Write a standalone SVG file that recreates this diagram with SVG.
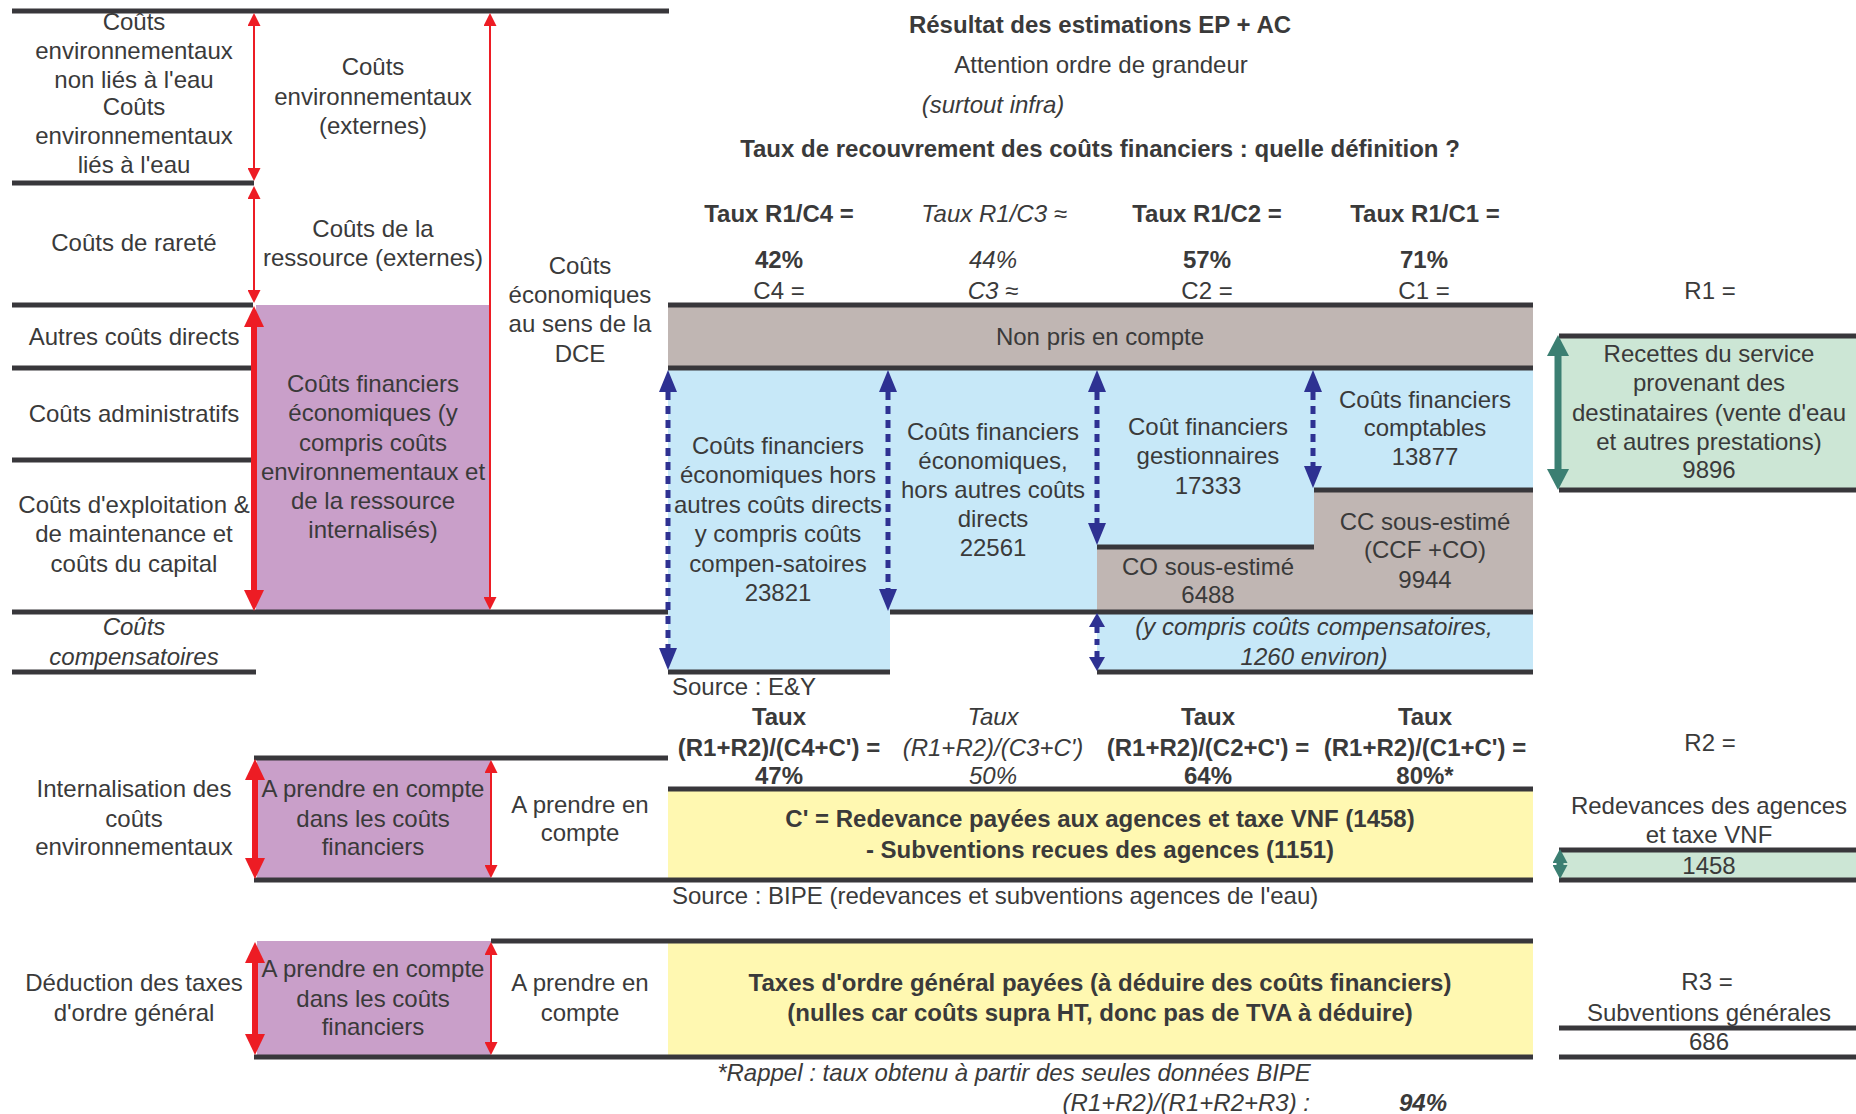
<svg xmlns="http://www.w3.org/2000/svg" width="1856" height="1114" viewBox="0 0 1856 1114">
<style>
.t{font-family:'Liberation Sans',Arial,sans-serif;font-size:24px;fill:#3a3a3a;text-anchor:middle}
.b{font-weight:bold}
.i{font-style:italic}
.l{text-anchor:start}
.e{text-anchor:end}
.rule{stroke:#38373b;stroke-width:5;fill:none}
.red{stroke:#ed1c24;stroke-width:2;fill:none}
.redT{stroke:#ed1c24;stroke-width:6;fill:none}
.nav{stroke:#2e3192;stroke-width:5;stroke-dasharray:8 6;fill:none}
.navS{stroke:#2e3192;stroke-width:5;stroke-dasharray:6 6;fill:none}
.teal{stroke:#3b7f72;stroke-width:7;fill:none}
.pur{fill:#c99fc9}
.blu{fill:#c7e8f8}
.gry{fill:#c0b6b3}
.yel{fill:#fff8b1}
.grn{fill:#cce6d5}
</style>
<defs>
<marker id="mRed" markerUnits="userSpaceOnUse" viewBox="0 -6.5 13 13" refX="0" refY="0" markerWidth="13" markerHeight="13" orient="auto-start-reverse"><path d="M0,-6.5 L13,0 L0,6.5 z" fill="#ed1c24"/></marker>
<marker id="mRedT" markerUnits="userSpaceOnUse" viewBox="0 -10 21 20" refX="0" refY="0" markerWidth="21" markerHeight="20" orient="auto-start-reverse"><path d="M0,-10 L21,0 L0,10 z" fill="#ed1c24"/></marker>
<marker id="mNav" markerUnits="userSpaceOnUse" viewBox="0 -9 22 18" refX="0" refY="0" markerWidth="22" markerHeight="18" orient="auto-start-reverse"><path d="M0,-9 L22,0 L0,9 z" fill="#2e3192"/></marker>
<marker id="mNavS" markerUnits="userSpaceOnUse" viewBox="0 -8 14 16" refX="0" refY="0" markerWidth="14" markerHeight="16" orient="auto-start-reverse"><path d="M0,-8 L14,0 L0,8 z" fill="#2e3192"/></marker>
<marker id="mTeal" markerUnits="userSpaceOnUse" viewBox="0 -11 21 22" refX="0" refY="0" markerWidth="21" markerHeight="22" orient="auto-start-reverse"><path d="M0,-11 L21,0 L0,11 z" fill="#3b7f72"/></marker>
<marker id="mTealS" markerUnits="userSpaceOnUse" viewBox="0 -7.5 14 15" refX="0" refY="0" markerWidth="14" markerHeight="15" orient="auto-start-reverse"><path d="M0,-7.5 L14,0 L0,7.5 z" fill="#3b7f72"/></marker>
</defs>
<rect width="1856" height="1114" fill="#ffffff"/>

<!-- fills -->
<g id="fills">
<rect class="pur" x="256" y="305" width="234" height="307"/>
<rect class="gry" x="668" y="305" width="865" height="63"/>
<rect class="blu" x="668" y="368" width="222" height="304"/>
<rect class="blu" x="890" y="368" width="207" height="244"/>
<rect class="blu" x="1097" y="368" width="217" height="179"/>
<rect class="gry" x="1097" y="547" width="217" height="65"/>
<rect class="blu" x="1314" y="368" width="219" height="122"/>
<rect class="gry" x="1314" y="490" width="219" height="122"/>
<rect class="blu" x="1097" y="612" width="436" height="60"/>
<rect class="grn" x="1559" y="336" width="297" height="154"/>
<rect class="pur" x="257" y="758" width="234" height="122"/>
<rect class="yel" x="668" y="789" width="865" height="91"/>
<rect class="grn" x="1559" y="850" width="297" height="30"/>
<rect class="pur" x="257" y="941" width="234" height="115"/>
<rect class="yel" x="668" y="941" width="865" height="116"/>
</g>

<!-- horizontal rules -->
<g id="rules">
<path class="rule" d="M12,11 H669 M12,183 H254 M12,305 H253 M668,305 H1533 M12,368 H251 M668,368 H1533 M12,460 H251 M12,612 H668 M890,612 H1533 M12,672 H256 M668,672 H890 M1097,672 H1533 M1097,547 H1314 M1314,490 H1533"/>
<path class="rule" d="M1559,336 H1856 M1559,490 H1856 M1559,850 H1856 M1559,880 H1856 M1559,1028 H1856 M1559,1057 H1856"/>
<path class="rule" d="M254,758 H668 M668,789 H1533 M254,880 H1533 M491,941 H1533 M254,1057 H1533"/>
</g>

<!-- header texts -->
<g id="header">
<text class="t b" x="1100" y="33">Résultat des estimations EP + AC</text>
<text class="t" x="1101" y="73">Attention ordre de grandeur</text>
<text class="t i" x="993" y="113">(surtout infra)</text>
<text class="t b" x="1100" y="157">Taux de recouvrement des coûts financiers : quelle définition ?</text>
</g>
<g id="rate-c4">
<text class="t b" x="779" y="222">Taux R1/C4 =</text>
<text class="t b" x="779" y="268">42%</text>
<text class="t" x="779" y="299">C4 =</text>
</g>
<g id="rate-c3">
<text class="t i" x="994" y="222">Taux R1/C3 ≈</text>
<text class="t i" x="993" y="268">44%</text>
<text class="t i" x="993" y="299">C3 ≈</text>
</g>
<g id="rate-c2">
<text class="t b" x="1207" y="222">Taux R1/C2 =</text>
<text class="t b" x="1207" y="268">57%</text>
<text class="t" x="1207" y="299">C2 =</text>
</g>
<g id="rate-c1">
<text class="t b" x="1425" y="222">Taux R1/C1 =</text>
<text class="t b" x="1424" y="268">71%</text>
<text class="t" x="1424" y="299">C1 =</text>
</g>

<!-- left column -->
<g id="env-non-eau">
<text class="t" x="134" y="29.5">Coûts</text>
<text class="t" x="134" y="58.5">environnementaux</text>
<text class="t" x="134" y="87.5">non liés à l'eau</text>
</g>
<g id="env-eau">
<text class="t" x="134" y="115">Coûts</text>
<text class="t" x="134" y="144">environnementaux</text>
<text class="t" x="134" y="173">liés à l'eau</text>
</g>
<g id="env-externes">
<text class="t" x="373" y="74.5">Coûts</text>
<text class="t" x="373" y="104.5">environnementaux</text>
<text class="t" x="373" y="133.5">(externes)</text>
</g>
<g id="rarete"><text class="t" x="134" y="251">Coûts de rareté</text></g>
<g id="ressource">
<text class="t" x="373" y="236.5">Coûts de la</text>
<text class="t" x="373" y="265.5">ressource (externes)</text>
</g>
<g id="eco-dce">
<text class="t" x="580" y="273.5">Coûts</text>
<text class="t" x="580" y="303">économiques</text>
<text class="t" x="580" y="332">au sens de la</text>
<text class="t" x="580" y="361.5">DCE</text>
</g>
<g id="autres-directs"><text class="t" x="134" y="344.5">Autres coûts directs</text></g>
<g id="administratifs"><text class="t" x="134" y="421.5">Coûts administratifs</text></g>
<g id="exploitation">
<text class="t" x="134" y="512.5">Coûts d'exploitation &amp;</text>
<text class="t" x="134" y="542">de maintenance et</text>
<text class="t" x="134" y="572">coûts du capital</text>
</g>
<g id="fin-eco">
<text class="t" x="373" y="392">Coûts financiers</text>
<text class="t" x="373" y="421">économiques (y</text>
<text class="t" x="373" y="450.5">compris coûts</text>
<text class="t" x="373" y="480">environnementaux et</text>
<text class="t" x="373" y="509">de la ressource</text>
<text class="t" x="373" y="538">internalisés)</text>
</g>
<g id="compensatoires">
<text class="t i" x="134" y="634.5">Coûts</text>
<text class="t i" x="134" y="664.5">compensatoires</text>
</g>

<!-- cost columns -->
<g id="non-pris"><text class="t" x="1100" y="344.5">Non pris en compte</text></g>
<g id="col-c4">
<text class="t" x="778" y="453.5">Coûts financiers</text>
<text class="t" x="778" y="483">économiques hors</text>
<text class="t" x="778" y="512.5">autres coûts directs</text>
<text class="t" x="778" y="542">y compris coûts</text>
<text class="t" x="778" y="571.5">compen-satoires</text>
<text class="t" x="778" y="600.5">23821</text>
</g>
<g id="col-c3">
<text class="t" x="993" y="439.5">Coûts financiers</text>
<text class="t" x="993" y="469">économiques,</text>
<text class="t" x="993" y="497.5">hors autres coûts</text>
<text class="t" x="993" y="527">directs</text>
<text class="t" x="993" y="555.5">22561</text>
</g>
<g id="col-c2">
<text class="t" x="1208" y="434.5">Coût financiers</text>
<text class="t" x="1208" y="464">gestionnaires</text>
<text class="t" x="1208" y="493.5">17333</text>
</g>
<g id="col-c1">
<text class="t" x="1425" y="407.5">Coûts financiers</text>
<text class="t" x="1425" y="436">comptables</text>
<text class="t" x="1425" y="465">13877</text>
</g>
<g id="co-sous">
<text class="t" x="1208" y="574.5">CO sous-estimé</text>
<text class="t" x="1208" y="603">6488</text>
</g>
<g id="cc-sous">
<text class="t" x="1425" y="529.5">CC sous-estimé</text>
<text class="t" x="1425" y="558">(CCF +CO)</text>
<text class="t" x="1425" y="587.5">9944</text>
</g>
<g id="y-compris">
<text class="t i" x="1314" y="634.5">(y compris coûts compensatoires,</text>
<text class="t i" x="1314" y="664.5">1260 environ)</text>
</g>
<g id="source-ey"><text class="t l" x="672" y="695">Source : E&amp;Y</text></g>

<!-- R1 -->
<g id="r1-label"><text class="t" x="1710" y="299">R1 =</text></g>
<g id="r1-box">
<text class="t" x="1709" y="361.5">Recettes du service</text>
<text class="t" x="1709" y="390.5">provenant des</text>
<text class="t" x="1709" y="420.5">destinataires (vente d'eau</text>
<text class="t" x="1709" y="450">et autres prestations)</text>
<text class="t" x="1709" y="477.5">9896</text>
</g>

<!-- second rates row -->
<g id="rate2-c4">
<text class="t b" x="779" y="725">Taux</text>
<text class="t b" x="779" y="756">(R1+R2)/(C4+C') =</text>
<text class="t b" x="779" y="783.5">47%</text>
</g>
<g id="rate2-c3">
<text class="t i" x="993" y="725">Taux</text>
<text class="t i" x="993" y="756">(R1+R2)/(C3+C')</text>
<text class="t i" x="993" y="783.5">50%</text>
</g>
<g id="rate2-c2">
<text class="t b" x="1208" y="725">Taux</text>
<text class="t b" x="1208" y="756">(R1+R2)/(C2+C') =</text>
<text class="t b" x="1208" y="783.5">64%</text>
</g>
<g id="rate2-c1">
<text class="t b" x="1425" y="725">Taux</text>
<text class="t b" x="1425" y="756">(R1+R2)/(C1+C') =</text>
<text class="t b" x="1425" y="783.5">80%*</text>
</g>

<!-- internalisation block -->
<g id="internalisation">
<text class="t" x="134" y="796.5">Internalisation des</text>
<text class="t" x="134" y="826.5">coûts</text>
<text class="t" x="134" y="854.5">environnementaux</text>
</g>
<g id="int-prendre-fin">
<text class="t" x="373" y="796.5">A prendre en compte</text>
<text class="t" x="373" y="826.5">dans les coûts</text>
<text class="t" x="373" y="854.5">financiers</text>
</g>
<g id="int-prendre">
<text class="t" x="580" y="812.5">A prendre en</text>
<text class="t" x="580" y="840.5">compte</text>
</g>
<g id="redevance">
<text class="t b" x="1100" y="826.5">C' = Redevance payées aux agences et taxe VNF (1458)</text>
<text class="t b" x="1100" y="857.5">- Subventions recues des agences (1151)</text>
</g>
<g id="source-bipe"><text class="t l" x="672" y="903.5">Source : BIPE (redevances et subventions agences de l'eau)</text></g>
<g id="r2-label"><text class="t" x="1710" y="750.5">R2 =</text></g>
<g id="r2-box">
<text class="t" x="1709" y="813.5">Redevances des agences</text>
<text class="t" x="1709" y="843">et taxe VNF</text>
<text class="t" x="1709" y="873.5">1458</text>
</g>

<!-- taxes block -->
<g id="deduction">
<text class="t" x="134" y="991">Déduction des taxes</text>
<text class="t" x="134" y="1020.5">d'ordre général</text>
</g>
<g id="ded-prendre-fin">
<text class="t" x="373" y="976.5">A prendre en compte</text>
<text class="t" x="373" y="1006.5">dans les coûts</text>
<text class="t" x="373" y="1034.5">financiers</text>
</g>
<g id="ded-prendre">
<text class="t" x="580" y="991">A prendre en</text>
<text class="t" x="580" y="1020.5">compte</text>
</g>
<g id="taxes">
<text class="t b" x="1100" y="991">Taxes d'ordre général payées (à déduire des coûts financiers)</text>
<text class="t b" x="1100" y="1020.5">(nulles car coûts supra HT, donc pas de TVA à déduire)</text>
</g>
<g id="r3">
<text class="t" x="1707" y="989.5">R3 =</text>
<text class="t" x="1709" y="1020.5">Subventions générales</text>
<text class="t" x="1709" y="1050">686</text>
</g>
<g id="rappel">
<text class="t i" x="1014" y="1081">*Rappel : taux obtenu à partir des seules données BIPE</text>
<text class="t i e" x="1310" y="1110.5">(R1+R2)/(R1+R2+R3) :</text>
<text class="t b i" x="1423" y="1110.5">94%</text>
</g>

<!-- connectors -->
<g id="connectors">
<line class="red" x1="254" y1="26" x2="254" y2="168" marker-start="url(#mRed)" marker-end="url(#mRed)"/>
<line class="red" x1="254" y1="199" x2="254" y2="290" marker-start="url(#mRed)" marker-end="url(#mRed)"/>
<line class="redT" x1="254" y1="327" x2="254" y2="590" marker-start="url(#mRedT)" marker-end="url(#mRedT)"/>
<line class="red" x1="490" y1="26" x2="490" y2="597" marker-start="url(#mRed)" marker-end="url(#mRed)"/>
<line class="redT" x1="255" y1="780" x2="255" y2="858" marker-start="url(#mRedT)" marker-end="url(#mRedT)"/>
<line class="red" x1="491" y1="773" x2="491" y2="865" marker-start="url(#mRed)" marker-end="url(#mRed)"/>
<line class="redT" x1="255" y1="963" x2="255" y2="1034" marker-start="url(#mRedT)" marker-end="url(#mRedT)"/>
<line class="red" x1="491" y1="955" x2="491" y2="1042" marker-start="url(#mRed)" marker-end="url(#mRed)"/>
<line class="nav" x1="668" y1="392" x2="668" y2="648" marker-start="url(#mNav)" marker-end="url(#mNav)"/>
<line class="nav" x1="888" y1="392" x2="888" y2="589" marker-start="url(#mNav)" marker-end="url(#mNav)"/>
<line class="nav" x1="1097" y1="392" x2="1097" y2="523" marker-start="url(#mNav)" marker-end="url(#mNav)"/>
<line class="nav" x1="1313" y1="392" x2="1313" y2="466" marker-start="url(#mNav)" marker-end="url(#mNav)"/>
<line class="navS" x1="1097" y1="627" x2="1097" y2="657" marker-start="url(#mNavS)" marker-end="url(#mNavS)"/>
<line class="teal" x1="1558" y1="356" x2="1558" y2="469" marker-start="url(#mTeal)" marker-end="url(#mTeal)"/>
<line class="teal" x1="1560" y1="863" x2="1560" y2="865" marker-start="url(#mTealS)" marker-end="url(#mTealS)"/>
</g>
</svg>
